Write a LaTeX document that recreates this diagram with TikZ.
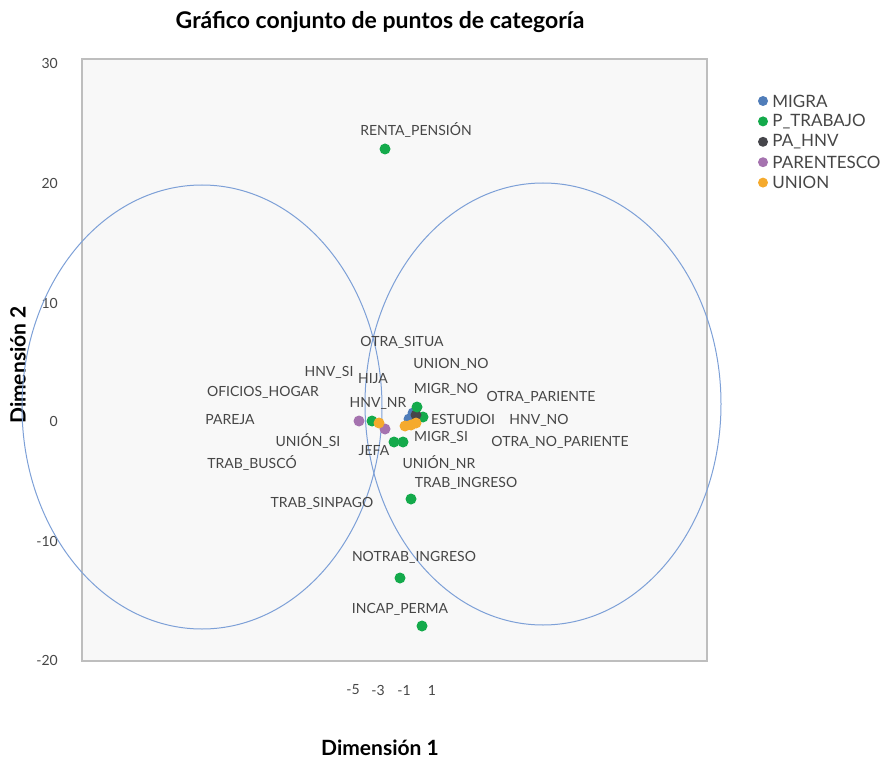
\documentclass[tikz,border=0pt]{standalone}
\usepackage{fontspec}
\setmainfont{Lato}
\usepackage{tikz}
\usetikzlibrary{positioning}
\definecolor{plotbg}{RGB}{248,248,248}
\definecolor{frame}{RGB}{190,190,190}
\definecolor{ringblue}{RGB}{125,160,215}
\definecolor{migrablue}{RGB}{80,125,185}
\definecolor{trabgreen}{RGB}{20,170,75}
\definecolor{hnvgray}{RGB}{70,70,75}
\definecolor{parpurple}{RGB}{165,115,175}
\definecolor{unionorange}{RGB}{245,170,45}
\definecolor{labelgray}{RGB}{70,70,70}

\begin{document}
\begin{tikzpicture}[
    x=1pt, y=-1pt,
    dot/.style={circle, inner sep=0pt, minimum size=11pt},
    cat/.style={font=\fontsize{14}{16}\selectfont, text=labelgray, inner sep=0pt},
    tick/.style={font=\fontsize{14}{16}\selectfont, text=labelgray, inner sep=0pt},
    key/.style={font=\fontsize{17}{19}\selectfont, text=labelgray, inner sep=0pt, anchor=west},
    heading/.style={font=\bfseries\fontsize{21}{24}\selectfont},
    ring/.style={draw=ringblue, line width=1pt}
]
    \useasboundingbox (0,0) rectangle (886,759);

    % Plot area
    \draw[frame, fill=plotbg, line width=2pt] (82,59) rectangle (707,661);
    \node[heading, font=\bfseries\fontsize{23}{27}\selectfont] (title) at (380,22) {Gráfico conjunto de puntos de categoría};

    % Axis ticks
    \node[tick, anchor=east] (y30) at (58,63) {30};
    \node[tick, anchor=east] (y20) at (58,183) {20};
    \node[tick, anchor=east] (y10) at (58,303) {10};
    \node[tick, anchor=east] (y0) at (58,421) {0};
    \node[tick, anchor=east] (ym10) at (58,541) {-10};
    \node[tick, anchor=east] (ym20) at (58,660) {-20};
    \node[tick] (xm5) at (353,690) {-5};
    \node[tick] (xm3) at (378,690) {-3};
    \node[tick] (xm1) at (404,690) {-1};
    \node[tick] (x1) at (432,690) {1};
    \node[heading] (dim1) at (380,748) {Dimensión 1};
    \node[heading, rotate=90] (dim2) at (18,365) {Dimensión 2};

    % Clusters
    \draw[ring] (202,407) ellipse [x radius=180, y radius=222];
    \draw[ring] (543,404) ellipse [x radius=178, y radius=221];

    % Category points
    \node[dot, fill=trabgreen] (renta) at (385,149) {};
    \node[dot, fill=trabgreen] (ingreso) at (411,499) {};
    \node[dot, fill=trabgreen] (notrab) at (400,578) {};
    \node[dot, fill=trabgreen] (incap) at (422,626) {};
    \node[dot, fill=trabgreen] (estud) at (423,417) {};
    \node[dot, fill=trabgreen] (oficios) at (372,421) {};
    \node[dot, fill=trabgreen] (busco) at (394,442) {};
    \node[dot, fill=trabgreen] (sinpago) at (403,442) {};
    \node[dot, fill=migrablue] (migrno) at (409,419) {};
    \node[dot, fill=migrablue] (migrsi) at (413,413) {};
    \node[dot, fill=hnvgray] (hnvno) at (416,415) {};
    \node[dot, fill=trabgreen] (otra) at (417,407) {};
    \node[dot, fill=parpurple] (pareja) at (359,421) {};
    \node[dot, fill=parpurple] (hija) at (385,429) {};
    \node[dot, fill=unionorange] (unionsi) at (379,423) {};
    \node[dot, fill=unionorange] (unionno) at (405,426) {};
    \node[dot, fill=unionorange] (unionnr) at (411,425) {};
    \node[dot, fill=unionorange] (unionx) at (416,423) {};

    % Category labels
    \node[cat] (l-renta) at (416,130) {RENTA\_PENSIÓN};
    \node[cat] (l-situa) at (402,342) {OTRA\_SITUA};
    \node[cat] (l-unionno) at (451,364) {UNION\_NO};
    \node[cat] (l-hnvsi) at (329,372) {HNV\_SI};
    \node[cat] (l-hija) at (373,379) {HIJA};
    \node[cat] (l-migrno) at (446,389) {MIGR\_NO};
    \node[cat] (l-oficios) at (263,392) {OFICIOS\_HOGAR};
    \node[cat] (l-otrapar) at (541,397) {OTRA\_PARIENTE};
    \node[cat] (l-hnvnr) at (378,403) {HNV\_NR};
    \node[cat] (l-estud) at (463,419) {ESTUDIOI};
    \node[cat] (l-pareja) at (230,420) {PAREJA};
    \node[cat] (l-hnvno) at (539,420) {HNV\_NO};
    \node[cat] (l-migrsi) at (441,437) {MIGR\_SI};
    \node[cat] (l-unionsi) at (308,441) {UNIÓN\_SI};
    \node[cat] (l-otranopar) at (560,442) {OTRA\_NO\_PARIENTE};
    \node[cat] (l-jefa) at (374,451) {JEFA};
    \node[cat] (l-busco) at (252,463) {TRAB\_BUSCÓ};
    \node[cat] (l-unionnr) at (439,463) {UNIÓN\_NR};
    \node[cat] (l-ingreso) at (466,483) {TRAB\_INGRESO};
    \node[cat] (l-sinpago) at (322,503) {TRAB\_SINPAGO};
    \node[cat] (l-notrab) at (414,557) {NOTRAB\_INGRESO};
    \node[cat] (l-incap) at (400,609) {INCAP\_PERMA};

    % Legend
    \node[dot, minimum size=10pt, fill=migrablue] (k-migra) at (763,101) {};
    \node[dot, minimum size=10pt, fill=trabgreen, below=10pt of k-migra] (k-trab) {};
    \node[dot, minimum size=10pt, fill=hnvgray, below=10pt of k-trab] (k-hnv) {};
    \node[dot, minimum size=10pt, fill=parpurple, below=10pt of k-hnv] (k-par) {};
    \node[dot, minimum size=10pt, fill=unionorange, below=10pt of k-par] (k-union) {};
    \node[key, right=4pt of k-migra] (t-migra) {MIGRA};
    \node[key, right=4pt of k-trab] (t-trab) {P\_TRABAJO};
    \node[key, right=4pt of k-hnv] (t-hnv) {PA\_HNV};
    \node[key, right=4pt of k-par] (t-par) {PARENTESCO};
    \node[key, right=4pt of k-union] (t-union) {UNION};
\end{tikzpicture}
\end{document}
